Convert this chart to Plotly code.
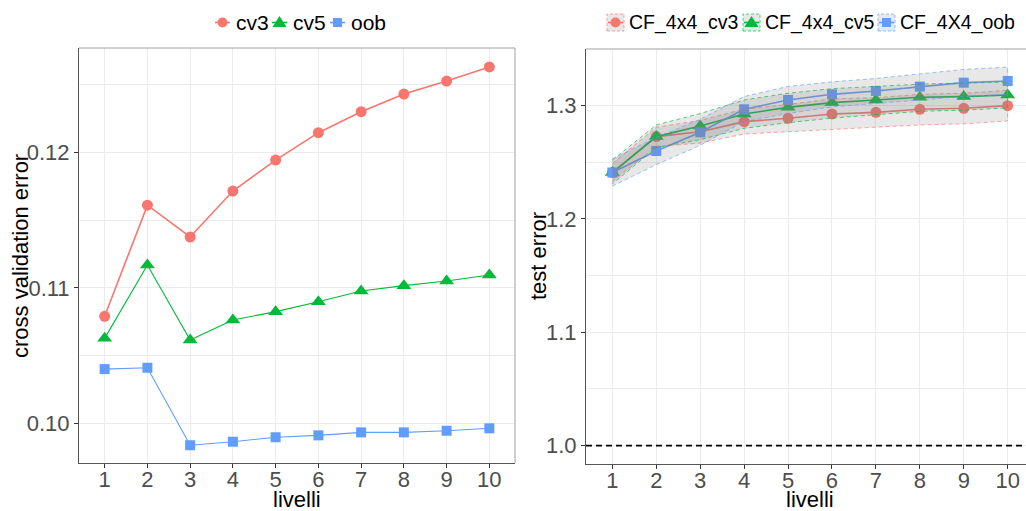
import plotly.graph_objects as go

# ---- data -------------------------------------------------------------
livelli = [1, 2, 3, 4, 5, 6, 7, 8, 9, 10]

# cross-validation error per level
cv3 = [0.1079, 0.1161, 0.11375, 0.11714, 0.11943, 0.12145, 0.1230, 0.1243, 0.12526, 0.1263]
cv5 = [0.10627, 0.11168, 0.10615, 0.10762, 0.10824, 0.10897, 0.10976, 0.11016, 0.1105, 0.11094]
oob = [0.1040, 0.1041, 0.09838, 0.09864, 0.09897, 0.09911, 0.09933, 0.09933, 0.09945, 0.09963]

# test error per level, with lower / upper band
cf_cv3 = [1.241, 1.2727, 1.277, 1.2859, 1.2889, 1.2927, 1.2941, 1.2968, 1.2977, 1.300]
cf_cv3_lo = [1.233, 1.264, 1.267, 1.275, 1.277, 1.279, 1.281, 1.283, 1.284, 1.2865]
cf_cv3_hi = [1.249, 1.281, 1.287, 1.297, 1.301, 1.306, 1.307, 1.310, 1.311, 1.3135]

cf_cv5 = [1.241, 1.2727, 1.282, 1.2927, 1.2985, 1.3027, 1.305, 1.3074, 1.308, 1.3094]
cf_cv5_lo = [1.231, 1.263, 1.270, 1.280, 1.285, 1.289, 1.292, 1.295, 1.296, 1.298]
cf_cv5_hi = [1.252, 1.283, 1.293, 1.305, 1.311, 1.315, 1.317, 1.319, 1.320, 1.3207]

cf_oob = [1.241, 1.260, 1.2765, 1.2968, 1.305, 1.310, 1.313, 1.3168, 1.3203, 1.3218]
cf_oob_lo = [1.229, 1.248, 1.265, 1.286, 1.293, 1.299, 1.302, 1.305, 1.308, 1.310]
cf_oob_hi = [1.253, 1.272, 1.288, 1.308, 1.317, 1.321, 1.324, 1.328, 1.332, 1.334]

baseline = 1.0

left_names = ["cv3", "cv5", "oob"]
right_names = ["CF_4x4_cv3", "CF_4x4_cv5", "CF_4X4_oob"]

# ---- style ------------------------------------------------------------
W, H = 1026, 511
FONT = "Liberation Sans, Arial, sans-serif"
RED, GREEN, BLUE = "#F8766D", "#00BA38", "#619CFF"
RED_A, GREEN_A, BLUE_A = "rgba(248,118,109,0.65)", "rgba(0,186,56,0.65)", "rgba(97,156,255,0.65)"
BAND = "rgba(127,127,127,0.18)"
GRID = "#ebebeb"
DARK = "#555555"
LIGHT = "#a0a0a0"


def px(x):
    return x / W


def py(y):
    return 1 - y / H


fig = go.Figure()

# ---- left panel -------------------------------------------------------
left_series = [
    (cv3, RED, "circle", 11, 1.6),
    (cv5, GREEN, "triangle-up", 13, 1.1),
    (oob, BLUE, "square", 10, 1.1),
]
for (vals, col, sym, size, lw), name in zip(left_series, left_names):
    fig.add_trace(go.Scatter(
        x=livelli, y=vals, name=name, mode="lines+markers",
        line=dict(color=col, width=lw),
        marker=dict(color=col, symbol=sym, size=size, line=dict(width=0)),
        xaxis="x", yaxis="y", showlegend=False,
    ))

# ---- right panel ------------------------------------------------------
right_series = [
    (cf_cv3, cf_cv3_lo, cf_cv3_hi, RED, RED_A, "circle", 11),
    (cf_cv5, cf_cv5_lo, cf_cv5_hi, GREEN, GREEN_A, "triangle-up", 13),
    (cf_oob, cf_oob_lo, cf_oob_hi, BLUE, BLUE_A, "square", 10),
]
for (vals, lo, hi, col, cola, sym, size), name in zip(right_series, right_names):
    fig.add_trace(go.Scatter(
        x=livelli, y=vals, name=name, mode="lines+markers",
        line=dict(color=col, width=1.6),
        marker=dict(color=col, symbol=sym, size=size, line=dict(width=0)),
        xaxis="x2", yaxis="y2", showlegend=False,
    ))
for (vals, lo, hi, col, cola, sym, size), name in zip(right_series, right_names):
    fig.add_trace(go.Scatter(
        x=livelli + livelli[::-1], y=hi + lo[::-1], mode="lines",
        fill="toself", fillcolor=BAND,
        line=dict(color=cola, width=1, dash="4px,3px"),
        xaxis="x2", yaxis="y2", showlegend=False, hoverinfo="skip",
    ))

tickfont = dict(family=FONT, size=22, color="#4d4d4d")
common_x = dict(
    tickvals=livelli, ticktext=[str(v) for v in livelli],
    showgrid=True, gridcolor=GRID, gridwidth=1, zeroline=False,
    showline=True, linecolor=DARK, linewidth=1,
    ticks="outside", ticklen=4, tickcolor="#333333", tickwidth=1,
    ticklabelstandoff=-7,
    tickfont=tickfont, fixedrange=True,
)
common_y = dict(
    showgrid=True, gridcolor=GRID, gridwidth=1, zeroline=False,
    showline=True, linecolor=DARK, linewidth=1,
    ticks="outside", ticklen=4, tickcolor="#333333", tickwidth=1,
    tickfont=tickfont, fixedrange=True,
)

L_X0, L_X1, L_Y0, L_Y1 = 79, 515, 48, 463
R_X0, R_X1, R_Y0, R_Y1 = 586, 1026, 49, 464

fig.update_layout(
    width=W, height=H,
    margin=dict(l=0, r=0, t=0, b=0),
    paper_bgcolor="white", plot_bgcolor="white",
    font=dict(family=FONT),
    showlegend=False,
    xaxis=dict(domain=[px(L_X0), px(L_X1)], range=[0.4, 10.6], anchor="y", **common_x),
    yaxis=dict(domain=[py(L_Y1), py(L_Y0)], range=[0.09707, 0.1277], anchor="x",
               tickvals=[0.10, 0.11, 0.12], ticktext=["0.10", "0.11", "0.12"],
               minor=dict(tickvals=[0.105, 0.115, 0.125], showgrid=True, gridcolor=GRID, ticklen=0),
               **common_y),
    xaxis2=dict(domain=[px(R_X0), 1.0], range=[0.4, 10.417], anchor="y2", **common_x),
    yaxis2=dict(domain=[py(R_Y1), py(R_Y0)], range=[0.9838, 1.35], anchor="x2",
                tickvals=[1.0, 1.1, 1.2, 1.3], ticktext=["1.0", "1.1", "1.2", "1.3"],
                minor=dict(tickvals=[1.05, 1.15, 1.25], showgrid=True, gridcolor=GRID, ticklen=0),
                **common_y),
)

shapes = []
# panel borders (top / right)
shapes.append(dict(type="line", xref="paper", yref="paper", x0=px(L_X0), x1=px(L_X1),
                   y0=py(L_Y0), y1=py(L_Y0), line=dict(color=LIGHT, width=1)))
shapes.append(dict(type="line", xref="paper", yref="paper", x0=px(L_X1), x1=px(L_X1),
                   y0=py(L_Y0), y1=py(L_Y1), line=dict(color=LIGHT, width=1)))
shapes.append(dict(type="line", xref="paper", yref="paper", x0=px(R_X0), x1=1.0,
                   y0=py(R_Y0), y1=py(R_Y0), line=dict(color=LIGHT, width=1)))
# reference line at test error = 1
shapes.append(dict(type="line", xref="x2 domain", yref="y2", x0=0, x1=1,
                   y0=baseline, y1=baseline, line=dict(color="black", width=1.6, dash="6px,4px")))

annotations = []


def legend_text(x, y, text, size):
    annotations.append(dict(xref="paper", yref="paper", x=px(x), y=py(y), text=text,
                            showarrow=False, xanchor="left", yanchor="middle",
                            font=dict(family=FONT, size=size, color="black")))


def marker_shape(kind, cx, cy, col, r):
    if kind == "circle":
        shapes.append(dict(type="circle", xref="paper", yref="paper",
                           x0=px(cx - r), x1=px(cx + r), y0=py(cy + r), y1=py(cy - r),
                           fillcolor=col, line=dict(width=0)))
    elif kind == "triangle-up":
        p = "M {} {} L {} {} L {} {} Z".format(px(cx), py(cy - r - 1), px(cx - r - 1.5), py(cy + r - 1),
                                             px(cx + r + 1.5), py(cy + r - 1))
        shapes.append(dict(type="path", xref="paper", yref="paper", path=p,
                           fillcolor=col, line=dict(width=0)))
    else:
        shapes.append(dict(type="rect", xref="paper", yref="paper",
                           x0=px(cx - r), x1=px(cx + r), y0=py(cy + r), y1=py(cy - r),
                           fillcolor=col, line=dict(width=0)))


# left legend keys
LEG_Y = 22.5
left_keys = [(215, 234, RED, "circle", 5), (272, 291, GREEN, "triangle-up", 5.5), (330, 349, BLUE, "square", 4.5)]
for (kx, tx, col, kind, r), name in zip(left_keys, left_names):
    shapes.append(dict(type="line", xref="paper", yref="paper", x0=px(kx), x1=px(kx + 15),
                       y0=py(LEG_Y), y1=py(LEG_Y), line=dict(color=col, width=1.6)))
    marker_shape(kind, kx + 7.5, LEG_Y, col, r)
    legend_text(tx, LEG_Y, name, 21)

# right legend keys
right_keys = [(607, 627, RED, RED_A, "circle", 5), (743, 763, GREEN, GREEN_A, "triangle-up", 5.5),
              (878, 898, BLUE, BLUE_A, "square", 4.5)]
for (kx, tx, col, cola, kind, r), name in zip(right_keys, right_names):
    shapes.append(dict(type="rect", xref="paper", yref="paper", x0=px(kx), x1=px(kx + 17),
                       y0=py(LEG_Y + 8.5), y1=py(LEG_Y - 8.5), fillcolor="rgba(127,127,127,0.18)",
                       line=dict(color=cola, width=1, dash="3px,2px")))
    shapes.append(dict(type="line", xref="paper", yref="paper", x0=px(kx + 1), x1=px(kx + 16),
                       y0=py(LEG_Y), y1=py(LEG_Y), line=dict(color=col, width=1.6)))
    marker_shape(kind, kx + 8.5, LEG_Y, col, r)
    legend_text(tx, LEG_Y, name, 19.5)

# axis titles
title_font = dict(family=FONT, size=22, color="black")
annotations.append(dict(xref="paper", yref="paper", x=px(20), y=py(256), text="cross validation error",
                        textangle=-90, showarrow=False, xanchor="center", yanchor="middle", font=title_font))
annotations.append(dict(xref="paper", yref="paper", x=px(538), y=py(256), text="test error",
                        textangle=-90, showarrow=False, xanchor="center", yanchor="middle", font=title_font))
for cx in (297, 810):
    annotations.append(dict(xref="paper", yref="paper", x=px(cx), y=0, yshift=-3, text="livelli",
                            showarrow=False, xanchor="center", yanchor="bottom", font=title_font))

fig.update_layout(shapes=shapes, annotations=annotations)

fig.write_html("out.html")
